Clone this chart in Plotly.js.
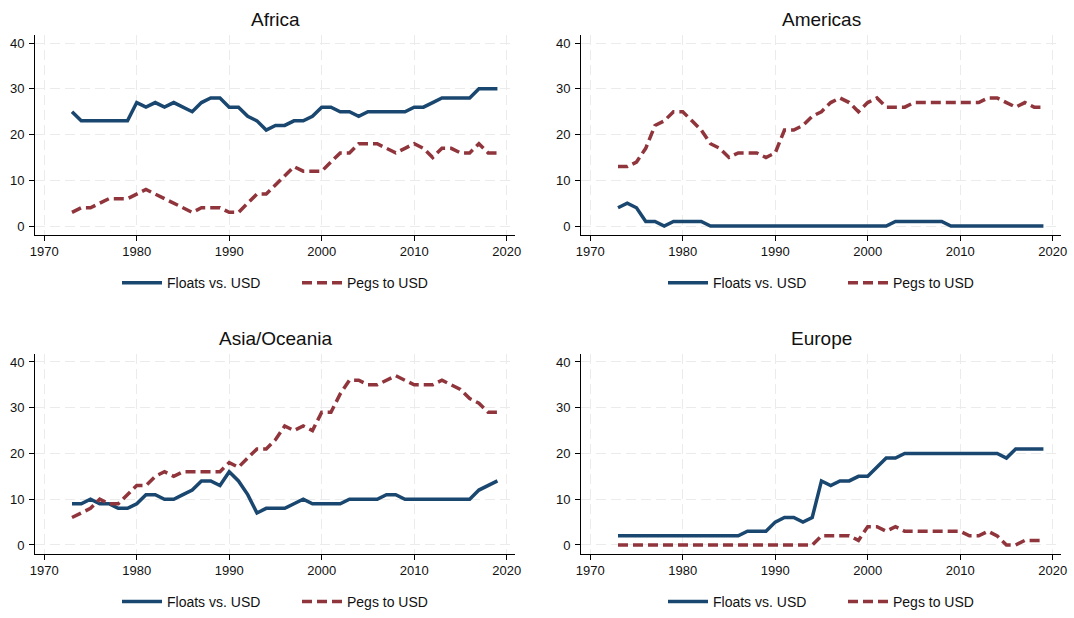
<!DOCTYPE html>
<html>
<head>
<meta charset="utf-8">
<script src="https://cdn.plot.ly/plotly-3.0.1.min.js"></script>
<style>
  html, body { margin: 0; padding: 0; background: white; }
  #chart { width: 1074px; height: 618px; }
</style>
</head>
<body>
<div id="chart"></div>
<script>
// Number of countries floating vs. the USD and pegged to the USD, by region
const years = [
    1973, 1974, 1975, 1976, 1977, 1978, 1979,
    1980, 1981, 1982, 1983, 1984, 1985, 1986, 1987, 1988, 1989,
    1990, 1991, 1992, 1993, 1994, 1995, 1996, 1997, 1998, 1999,
    2000, 2001, 2002, 2003, 2004, 2005, 2006, 2007, 2008, 2009,
    2010, 2011, 2012, 2013, 2014, 2015, 2016, 2017, 2018, 2019
];

const africaFloats = [25, 23, 23, 23, 23, 23, 23,
    27, 26, 27, 26, 27, 26, 25, 27, 28, 28,
    26, 26, 24, 23, 21, 22, 22, 23, 23, 24,
    26, 26, 25, 25, 24, 25, 25, 25, 25, 25,
    26, 26, 27, 28, 28, 28, 28, 30, 30, 30];
const africaPegs = [3, 4, 4, 5, 6, 6, 6,
    7, 8, 7, 6, 5, 4, 3, 4, 4, 4,
    3, 3, 5, 7, 7, 9, 11, 13, 12, 12,
    12, 14, 16, 16, 18, 18, 18, 17, 16, 17,
    18, 17, 15, 17, 17, 16, 16, 18, 16, 16];

const americasFloats = [4, 5, 4, 1, 1, 0, 1,
    1, 1, 1, 0, 0, 0, 0, 0, 0, 0,
    0, 0, 0, 0, 0, 0, 0, 0, 0, 0,
    0, 0, 0, 1, 1, 1, 1, 1, 1, 0,
    0, 0, 0, 0, 0, 0, 0, 0, 0, 0];
const americasPegs = [13, 13, 14, 17, 22, 23, 25,
    25, 23, 21, 18, 17, 15, 16, 16, 16, 15,
    16, 21, 21, 22, 24, 25, 27, 28, 27, 25,
    27, 28, 26, 26, 26, 27, 27, 27, 27, 27,
    27, 27, 27, 28, 28, 27, 26, 27, 26, 26];

const asiaFloats = [9, 9, 10, 9, 9, 8, 8,
    9, 11, 11, 10, 10, 11, 12, 14, 14, 13,
    16, 14, 11, 7, 8, 8, 8, 9, 10, 9,
    9, 9, 9, 10, 10, 10, 10, 11, 11, 10,
    10, 10, 10, 10, 10, 10, 10, 12, 13, 14];
const asiaPegs = [6, 7, 8, 10, 9, 9, 11,
    13, 13, 15, 16, 15, 16, 16, 16, 16, 16,
    18, 17, 19, 21, 21, 23, 26, 25, 26, 25,
    29, 29, 33, 36, 36, 35, 35, 36, 37, 36,
    35, 35, 35, 36, 35, 34, 32, 31, 29, 29];

const europeFloats = [2, 2, 2, 2, 2, 2, 2,
    2, 2, 2, 2, 2, 2, 2, 3, 3, 3,
    5, 6, 6, 5, 6, 14, 13, 14, 14, 15,
    15, 17, 19, 19, 20, 20, 20, 20, 20, 20,
    20, 20, 20, 20, 20, 19, 21, 21, 21, 21];
const europePegs = [0, 0, 0, 0, 0, 0, 0,
    0, 0, 0, 0, 0, 0, 0, 0, 0, 0,
    0, 0, 0, 0, 0, 2, 2, 2, 2, 1,
    4, 4, 3, 4, 3, 3, 3, 3, 3, 3,
    3, 2, 2, 3, 2, 0, 0, 1, 1, 1];

const regions = ['Africa', 'Americas', 'Asia/Oceania', 'Europe'];
const floatsByRegion = [africaFloats, americasFloats, asiaFloats, europeFloats];
const pegsByRegion = [africaPegs, americasPegs, asiaPegs, europePegs];
const seriesNames = ['Floats vs. USD', 'Pegs to USD'];

const NAVY = '#1a476f';
const MAROON = '#90353b';
const FONT = 'Arial, "Liberation Sans", sans-serif';

// panel boxes in pixels (left, right, top, bottom) on the 1074x618 page
const W = 1074, H = 618;
const cols = [[35, 515], [581, 1061]];
const rows = [[35, 237], [357, 559]];

const traces = [];
const layout = {
    width: W,
    height: H,
    margin: { l: 0, r: 0, t: 0, b: 0 },
    paper_bgcolor: 'white',
    plot_bgcolor: 'white',
    font: { family: FONT, size: 13, color: '#111' },
    showlegend: true,
    annotations: []
};

regions.forEach((region, i) => {
    const col = cols[i % 2];
    const row = rows[Math.floor(i / 2)];
    const n = i === 0 ? '' : String(i + 1);
    const legendId = 'legend' + n;

    traces.push({
        x: years, y: floatsByRegion[i],
        type: 'scatter', mode: 'lines',
        name: seriesNames[0],
        xaxis: 'x' + n, yaxis: 'y' + n,
        legend: legendId,
        line: { color: NAVY, width: 3.5 },
        hoverinfo: 'x+y+name'
    });
    traces.push({
        x: years, y: pegsByRegion[i],
        type: 'scatter', mode: 'lines',
        name: seriesNames[1],
        xaxis: 'x' + n, yaxis: 'y' + n,
        legend: legendId,
        line: { color: MAROON, width: 3.5, dash: '10px,5px' },
        hoverinfo: 'x+y+name'
    });

    const axisCommon = {
        showline: true, linecolor: '#000', linewidth: 1,
        ticks: 'outside', ticklen: 5, tickcolor: '#000', tickwidth: 1,
        showgrid: true, gridcolor: '#ebebeb', gridwidth: 1, griddash: '10px,5px',
        zeroline: false, fixedrange: true,
        tickfont: { family: FONT, size: 13, color: '#111' }
    };

    layout['xaxis' + n] = Object.assign({}, axisCommon, {
        domain: [col[0] / W, col[1] / W],
        anchor: 'y' + n,
        range: [1969.0, 2020.9],
        tickvals: [1970, 1980, 1990, 2000, 2010, 2020]
    });
    layout['yaxis' + n] = Object.assign({}, axisCommon, {
        domain: [1 - row[1] / H, 1 - row[0] / H],
        anchor: 'x' + n,
        range: [-1.88, 41.84],
        tickvals: [0, 10, 20, 30, 40],
        ticklabelstandoff: 2
    });

    layout[legendId] = {
        orientation: 'h',
        x: (col[0] + 82) / W,
        xanchor: 'left',
        y: 1 - (row[1] + 49) / H,
        yanchor: 'middle',
        font: { family: FONT, size: 14, color: '#111' },
        bgcolor: 'rgba(0,0,0,0)',
        entrywidth: 125,
        itemwidth: 40
    };

    layout.annotations.push({
        text: region,
        xref: 'paper', yref: 'paper',
        x: (col[0] + col[1]) / 2 / W,
        y: 1 - (row[0] - 15) / H,
        xanchor: 'center', yanchor: 'middle',
        showarrow: false,
        font: { family: FONT, size: 19, color: '#111' }
    });
});

Plotly.newPlot('chart', traces, layout, { displayModeBar: false, staticPlot: true });
</script>
</body>
</html>
